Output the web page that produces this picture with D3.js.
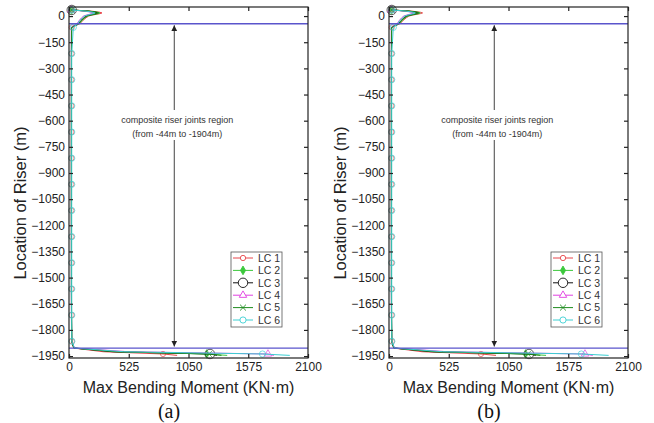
<!DOCTYPE html>
<html><head><meta charset="utf-8">
<script src="https://cdn.jsdelivr.net/npm/d3@7"></script>
<style>body{margin:0;background:#fff}svg{display:block}</style>
</head><body>
<svg id="c" width="654" height="423"></svg>
<script>
// ---- data ----
const xTicks = [0, 525, 1050, 1575, 2100];
const yTicks = [0, -150, -300, -450, -600, -750, -900, -1050, -1200, -1350, -1500, -1650, -1800, -1950];
const seriesNames = ["LC 1", "LC 2", "LC 3", "LC 4", "LC 5", "LC 6"];
const seriesColors = ["#e8474c", "#3cc83c", "#111111", "#e040e0", "#1e8c1e", "#3ccfd2"];
// riser locations (m) shared by all load cases
const depths = [35, 28, 22, 18, 14, 10, 5, 0, -10, -25, -44, -65, -215, -365, -515, -665, -815, -965, -1115, -1265, -1415, -1565, -1715, -1865, -1904, -1925, -1938, -1946];
const endMarkerDepths = [35, -1938];
const compositeMarkerDepths = [-65, -215, -365, -515, -665, -815, -965, -1115, -1265, -1415, -1565, -1715, -1865];
const compositeMarkerSeries = ["LC 1", "LC 6"];
// max bending moment (KN·m), panel (a)
const lc1A = [25, 200, 270, 290, 272, 240, 200, 172, 150, 122, 96, 24, 22, 21, 21, 21, 21, 21, 21, 22, 22, 22, 23, 25, 40, 300, 826, 950];
const lc2A = [22, 185, 255, 272, 258, 228, 190, 162, 140, 115, 90, 23, 21, 21, 20, 20, 20, 20, 20, 21, 21, 21, 22, 24, 45, 420, 1210, 1390];
const lc3A = [24, 170, 235, 250, 238, 210, 175, 150, 130, 105, 82, 22, 22, 22, 22, 22, 22, 22, 22, 22, 22, 22, 22, 24, 42, 380, 1239, 1300];
const lc4A = [20, 140, 195, 210, 200, 178, 150, 128, 110, 90, 70, 20, 20, 20, 20, 20, 20, 20, 20, 20, 20, 20, 21, 23, 50, 520, 1748, 1800];
const lc5A = [23, 178, 245, 262, 248, 220, 182, 156, 135, 110, 86, 22, 21, 21, 21, 21, 21, 21, 21, 21, 21, 21, 22, 24, 44, 400, 1230, 1340];
const lc6A = [25, 150, 210, 228, 215, 190, 160, 136, 118, 95, 75, 38, 24, 24, 24, 24, 24, 24, 24, 24, 24, 24, 24, 25, 48, 480, 1700, 1940];
// panel (b)
const lc1B = [24, 205, 275, 295, 276, 244, 203, 175, 152, 124, 97, 24, 22, 21, 21, 21, 21, 21, 21, 22, 22, 22, 23, 25, 40, 290, 808, 940];
const lc2B = [22, 188, 258, 275, 261, 231, 193, 164, 142, 116, 91, 23, 21, 21, 20, 20, 20, 20, 20, 21, 21, 21, 22, 24, 45, 410, 1200, 1380];
const lc3B = [24, 172, 238, 253, 241, 213, 177, 152, 131, 106, 83, 22, 22, 22, 22, 22, 22, 22, 22, 22, 22, 22, 22, 24, 42, 370, 1230, 1290];
const lc4B = [20, 142, 198, 213, 203, 180, 152, 130, 111, 91, 71, 20, 20, 20, 20, 20, 20, 20, 20, 20, 20, 20, 21, 23, 50, 510, 1722, 1790];
const lc5B = [23, 180, 248, 265, 251, 223, 184, 158, 136, 111, 87, 22, 21, 21, 21, 21, 21, 21, 21, 21, 21, 21, 22, 24, 44, 395, 1220, 1330];
const lc6B = [25, 152, 213, 231, 218, 192, 162, 138, 119, 96, 76, 38, 24, 24, 24, 24, 24, 24, 24, 24, 24, 24, 24, 25, 48, 470, 1690, 1930];
const regionTop = -44, regionBottom = -1904, arrowX = 925;
const annotation = ["composite riser joints region", "(from -44m to -1904m)"];

// ---- drawing ----
const svg = d3.select("#c");
const W = 239, H = 351;
const x = d3.scaleLinear().domain([0, 2100]).range([0, W]);
const y = d3.scaleLinear().domain([52, -1961]).range([0, H]);
const markerShapes = [
  {type: d3.symbolCircle, size: 22, fill: false},
  {type: d3.symbolDiamond, size: 22, fill: true},
  {type: d3.symbolCircle, size: 70, fill: false},
  {type: d3.symbolTriangle, size: 24, fill: false},
  {type: d3.symbolTimes, size: 24, fill: false},
  {type: d3.symbolCircle, size: 30, fill: false}
];

function panel(ox, oy, sets, label) {
  const g = svg.append("g").attr("transform", `translate(${ox},${oy})`);
  const font = "Arial, 'Liberation Sans', sans-serif";
  // series
  const line = d3.line().x(d => x(d[0])).y(d => y(d[1]));
  sets.forEach((vals, i) => {
    const pts = vals.map((v, j) => [v, depths[j]]);
    g.append("path").attr("d", line(pts)).attr("fill", "none")
      .attr("stroke", seriesColors[i]).attr("stroke-width", 1);
    const m = markerShapes[i];
    const withComposite = compositeMarkerSeries.includes(seriesNames[i]);
    g.selectAll(null).data(pts.filter(p => endMarkerDepths.includes(p[1]) ||
        (withComposite && compositeMarkerDepths.includes(p[1])))).enter()
      .append("path").attr("d", d3.symbol().type(m.type).size(m.size))
      .attr("transform", p => `translate(${x(p[0])},${y(p[1])})`)
      .attr("fill", m.fill ? seriesColors[i] : "none")
      .attr("stroke", seriesColors[i]).attr("stroke-width", 0.9).attr("opacity", 0.75);
  });
  // region lines
  [regionTop, regionBottom].forEach(d => {
    g.append("line").attr("x1", 0).attr("x2", W).attr("y1", y(d)).attr("y2", y(d))
      .attr("stroke", "#5a55cc").attr("stroke-width", 1.3);
  });
  // arrow
  const ax = x(arrowX);
  const defsId = "ah" + label.replace(/\W/g, "");
  svg.append("defs").append("marker").attr("id", defsId).attr("viewBox", "0 0 10 10")
    .attr("refX", 10).attr("refY", 5).attr("markerWidth", 6).attr("markerHeight", 7)
    .attr("orient", "auto-start-reverse").attr("markerUnits", "userSpaceOnUse")
    .append("path").attr("d", "M0,0 L10,5 L0,10 z").attr("fill", "#222");
  g.append("line").attr("x1", ax).attr("x2", ax).attr("y1", y(regionTop) + 1.5).attr("y2", 103)
    .attr("stroke", "#444").attr("stroke-width", 1).attr("marker-start", `url(#${defsId})`);
  g.append("line").attr("x1", ax).attr("x2", ax).attr("y1", 133).attr("y2", y(regionBottom) - 1.5)
    .attr("stroke", "#444").attr("stroke-width", 1).attr("marker-end", `url(#${defsId})`);
  annotation.forEach((t, k) => {
    g.append("text").attr("x", ax + 3).attr("y", 116 + k * 14).attr("text-anchor", "middle")
      .attr("font-family", font).attr("font-size", 9).attr("fill", "#333").text(t);
  });
  // frame
  g.append("rect").attr("x", 0).attr("y", 0).attr("width", W).attr("height", H)
    .attr("fill", "none").attr("stroke", "#222").attr("stroke-width", 1.2);
  // axes
  const tl = 4;
  const bx = g.append("g").attr("transform", `translate(0,${H})`)
    .call(d3.axisBottom(x).tickValues(xTicks).tickSize(-tl).tickPadding(4).tickFormat(d3.format("d")));
  const tx = g.append("g").call(d3.axisTop(x).tickValues(xTicks).tickSize(-tl).tickFormat(""));
  const ly = g.append("g").call(d3.axisLeft(y).tickValues(yTicks).tickSize(-tl).tickPadding(4).tickFormat(d3.format("d")));
  const ry = g.append("g").attr("transform", `translate(${W},0)`).call(d3.axisRight(y).tickValues(yTicks).tickSize(-tl).tickFormat(""));
  [bx, tx, ly, ry].forEach(a => {
    a.select(".domain").remove();
    a.selectAll(".tick line").attr("stroke", "#222").attr("stroke-width", 1.2);
    a.selectAll("text").attr("font-family", font).attr("font-size", 12).attr("fill", "#222");
  });
  // titles
  g.append("text").attr("x", W / 2).attr("y", H + 35).attr("text-anchor", "middle")
    .attr("font-family", font).attr("font-size", 16).attr("fill", "#222").text("Max Bending Moment (KN\u00b7m)");
  g.append("text").attr("transform", `translate(-43,196) rotate(-90)`).attr("text-anchor", "middle")
    .attr("font-family", font).attr("font-size", 16.5).attr("fill", "#222").text("Location of Riser (m)");
  g.append("text").attr("x", 100).attr("y", H + 60).attr("text-anchor", "middle")
    .attr("font-family", "'Liberation Serif', 'Times New Roman', serif").attr("font-size", 20).attr("fill", "#111").text(label);
  // legend
  const lg = g.append("g").attr("transform", "translate(162,245)");
  lg.append("rect").attr("x", 0).attr("y", 0).attr("width", 51).attr("height", 75)
    .attr("fill", "#fff").attr("stroke", "#555").attr("stroke-width", 0.8);
  seriesNames.forEach((n, i) => {
    const ry0 = 6 + i * 12.4;
    lg.append("line").attr("x1", 2).attr("x2", 22).attr("y1", ry0).attr("y2", ry0)
      .attr("stroke", seriesColors[i]).attr("stroke-width", 1);
    const m = markerShapes[i];
    lg.append("path").attr("d", d3.symbol().type(m.type).size(m.size))
      .attr("transform", `translate(12,${ry0})`)
      .attr("fill", m.fill ? seriesColors[i] : "#fff").attr("stroke", seriesColors[i]).attr("stroke-width", 0.9);
    lg.append("text").attr("x", 27).attr("y", ry0 + 3.8).attr("font-family", font)
      .attr("font-size", 10.5).attr("fill", "#333").text(n);
  });
}

panel(69, 7, [lc1A, lc2A, lc3A, lc4A, lc5A, lc6A], "(a)");
panel(389, 7, [lc1B, lc2B, lc3B, lc4B, lc5B, lc6B], "(b)");
</script>
</body></html>
